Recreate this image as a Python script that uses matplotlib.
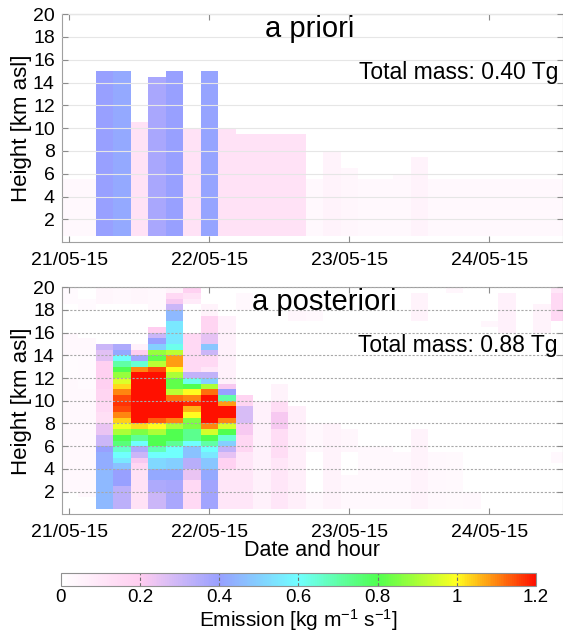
import numpy as np
import matplotlib
matplotlib.use('Agg')
import matplotlib.pyplot as plt
from matplotlib.colors import LinearSegmentedColormap

plt.rcParams['font.family'] = ['Liberation Sans', 'DejaVu Sans']
plt.rcParams['mathtext.default'] = 'regular'

# time axis: 3-hourly columns, hours since 21/05-15 00:00
day_ticks = [0, 24, 48, 72]
day_labels = ['21/05-15', '22/05-15', '23/05-15', '24/05-15']
height_ticks = [2, 4, 6, 8, 10, 12, 14, 16, 18, 20]

# a priori: each column is filled from 0.5 km up to its top with one value
prior_tops = [5.5, 5.5, 15, 15, 10.5, 14.5, 15, 10, 15, 10, 9.5, 9.5, 9.5, 9.5,
              5.5, 8, 6.5, 5.5, 5.5, 6, 7.5, 5.5, 5.5, 5.5, 5.5, 5.5, 5.5, 5.5, 5.5]
prior_vals = [0.03, 0.03, 0.40, 0.42, 0.12, 0.37, 0.40, 0.12, 0.41, 0.12, 0.12, 0.12, 0.12, 0.12,
              0.03, 0.05, 0.04, 0.03, 0.03, 0.03, 0.05, 0.03, 0.03, 0.03, 0.03, 0.03, 0.03, 0.03, 0.03]

# a posteriori: per column, (segment top [km], emission) starting from 0.5 km
p00 = [(2, 0), (12, 0.03), (14, 0.015), (16, 0.03), (18.5, 0), (20, 0.02)]
p01 = [(1.5, 0), (11, 0.03), (14, 0.02), (15.5, 0.03), (18, 0), (19, 0.02), (20, 0)]
p02 = [(4, 0.45), (5.5, 0.43), (6, 0.40), (7, 0.30), (8, 0.24), (9, 0.13), (10, 0.15),
       (11, 0.17), (13.5, 0.19), (14.5, 0.26), (15, 0.30), (18.5, 0), (20, 0.04)]
p03 = [(2.5, 0.33), (4, 0.40), (4.5, 0.47), (5, 0.55), (5.5, 0.60), (6, 0.66), (6.5, 0.75),
       (7, 0.80), (7.5, 0.90), (8, 0.98), (8.5, 1.04), (9, 1.10), (9.5, 1.15), (10, 1.17),
       (10.5, 1.15), (11, 1.10), (11.5, 1.03), (12, 0.96), (12.5, 0.88), (13, 0.80),
       (13.5, 0.70), (14, 0.60), (14.5, 0.42), (15, 0.36), (18.5, 0), (20, 0.03)]
p04 = [(4, 0.12), (4.5, 0.16), (5, 0.22), (5.5, 0.30), (6, 0.36), (6.5, 0.60), (7, 0.72),
       (7.5, 0.85), (8, 1.03), (12.5, 1.25), (13, 1.10), (13.5, 0.65), (14, 0.38),
       (14.5, 0.20), (15, 0.06), (18.5, 0), (20, 0.04)]
p05 = [(2, 0.30), (3, 0.36), (4, 0.42), (5, 0.52), (5.5, 0.60), (6, 0.68), (7, 0.80),
       (7.5, 0.90), (8, 1.00), (8.5, 1.13), (12.5, 1.25), (13, 1.15), (13.5, 0.92),
       (14, 0.82), (14.5, 0.88), (15, 0.50), (15.5, 0.40), (16, 0.30), (16.5, 0.20),
       (18, 0), (20, 0.03)]
p06 = [(3, 0.37), (4, 0.42), (5, 0.50), (6, 0.60), (6.5, 0.72), (7.5, 0.80), (8, 0.90),
       (8.5, 1.10), (10, 1.25), (10.5, 1.12), (11, 0.92), (12, 0.82), (12.5, 0.90),
       (13, 1.00), (14, 1.08), (14.5, 0.92), (15, 0.62), (17, 0.55), (18, 0.45),
       (18.5, 0.30), (19, 0.22), (19.5, 0.15), (20, 0.05)]
p07 = [(3, 0.15), (4, 0.24), (5, 0.34), (6, 0.47), (6.5, 0.60), (7.5, 0.73), (8.5, 0.85),
       (9, 1.00), (9.5, 1.06), (10, 1.18), (10.5, 1.10), (11, 1.00), (11.5, 0.80),
       (12, 0.62), (12.5, 0.32), (16, 0.15), (18.5, 0), (19, 0.08), (19.5, 0.12), (20, 0.18)]
p08 = [(3, 0.38), (4, 0.42), (5, 0.48), (5.5, 0.55), (6, 0.60), (6.5, 0.70), (7, 0.80),
       (7.5, 0.95), (8, 1.10), (10.5, 1.22), (11, 1.12), (11.5, 0.90), (12, 0.50),
       (12.5, 0.32), (13, 0.10), (14, 0.15), (14.5, 0.30), (15, 0.48), (16, 0.25),
       (17.5, 0.17), (18.5, 0.05), (20, 0)]
p09 = [(4, 0.10), (5, 0.18), (5.5, 0.25), (6, 0.32), (6.5, 0.50), (7, 0.65), (7.5, 0.80),
       (8, 0.95), (8.5, 1.10), (9.5, 1.20), (10, 1.08), (10.5, 0.70), (11, 0.40),
       (11.5, 0.22), (17.5, 0.06), (20, 0)]
p10 = [(5.5, 0.10), (7, 0.16), (8, 0.22), (9.5, 0.28), (10.5, 0.17), (18, 0), (19.5, 0.03), (20, 0)]
p11 = [(10, 0.06), (20, 0)]
p12 = [(5, 0.10), (7.5, 0.14), (9, 0.22), (10, 0.14), (11.5, 0.05), (20, 0)]
p13 = [(9.5, 0.07), (17, 0), (18, 0.04), (20, 0)]
p14 = [(2, 0.03), (5.5, 0), (8, 0.03), (17, 0), (18, 0.03), (20, 0)]
p15 = [(8, 0.05), (20, 0)]
p16 = [(3.5, 0.03), (5.5, 0), (7.5, 0.04), (20, 0)]
p17 = [(6, 0.03), (20, 0)]
p18 = [(6, 0.03), (20, 0)]
p19 = [(5.5, 0.03), (20, 0)]
p20 = [(7.5, 0.05), (17, 0), (19.5, 0.05), (20, 0)]
p21 = [(5.5, 0.03), (20, 0)]
p22 = [(5.5, 0.025), (19.5, 0), (20, 0.04)]
p23 = [(2, 0.03), (20, 0)]
p24 = [(16.5, 0), (17, 0.04), (20, 0)]
p25 = [(16, 0), (19.5, 0.06), (20, 0)]
p26 = [(20, 0)]
p27 = [(16, 0), (18.5, 0.05), (20, 0)]
p28 = [(4.5, 0), (5.5, 0.03), (17, 0), (19.5, 0.15), (20, 0.10)]

posterior_columns = [p00, p01, p02, p03, p04, p05, p06, p07, p08, p09, p10, p11, p12, p13, p14,
                     p15, p16, p17, p18, p19, p20, p21, p22, p23, p24, p25, p26, p27, p28]

# grid: 3 h wide columns centred on 00, 03, ... and 0.5 km levels
hour_edges = np.arange(-1.5, 86, 3)
height_edges = np.arange(0.5, 20.01, 0.5)
height_mid = 0.5 * (height_edges[:-1] + height_edges[1:])


def build_grid(columns):
    grid = np.zeros((len(height_mid), len(columns)))
    for j, segs in enumerate(columns):
        bottom = 0.5
        for top, val in segs:
            grid[(height_mid > bottom) & (height_mid < top), j] = val
            bottom = top
    return grid


prior_grid = build_grid([[(t, v), (20, 0)] for t, v in zip(prior_tops, prior_vals)])
post_grid = build_grid(posterior_columns)

cmap = LinearSegmentedColormap.from_list('emis', [
    (0.0, '#ffffff'), (1 / 6, '#ffcdf0'), (2 / 6, '#98a0ff'), (3 / 6, '#70ffff'),
    (4 / 6, '#50ff50'), (5 / 6, '#ffff20'), (1.0, '#ff1000')])
cmap.set_over('#ff1000')

fig = plt.figure(figsize=(5.63, 6.44), dpi=100)
ax1 = fig.add_axes([0.1096, 0.624, 0.8904, 0.354])
ax2 = fig.add_axes([0.1096, 0.2014, 0.8904, 0.3525])

panels = [(ax1, prior_grid, 'a priori', 'Total mass: 0.40 Tg', 0.494, '-', '#e6e6e6'),
          (ax2, post_grid, 'a posteriori', 'Total mass: 0.88 Tg', 0.523, (0, (2, 1.5)), '#a8a8a8')]

for ax, grid, title, mass, tx, gls, gcol in panels:
    mesh = ax.pcolormesh(hour_edges, height_edges, grid, cmap=cmap, vmin=0, vmax=1.2,
                         shading='flat', zorder=1)
    ax.set_xlim(-1.3, 84.6)
    ax.set_ylim(0, 20)
    ax.set_xticks(day_ticks)
    ax.set_xticklabels(day_labels)
    ax.set_yticks(height_ticks)
    ax.tick_params(direction='in', top=True, right=True, length=4, width=0.8,
                   color='#8c8c8c', labelsize=14, pad=5)
    ax.tick_params(axis='x', pad=7)
    ax.grid(axis='y', linestyle=gls, color=gcol, linewidth=0.8, zorder=2)
    ax.set_axisbelow(False)
    for sp in ax.spines.values():
        sp.set_color('#a0a0a0')
    ax.set_ylabel('Height [km asl]', fontsize=16)
    ax.yaxis.set_label_coords(-0.06, 0.5)
    ax.text(tx, 0.902, title, transform=ax.transAxes, ha='center', va='baseline', fontsize=21)
    ax.text(0.99, 0.715, mass, transform=ax.transAxes, ha='right', va='baseline', fontsize=16.5)

ax2.set_xlabel('Date and hour', fontsize=15.5)
ax2.xaxis.set_label_coords(0.5, -0.115)

cax = fig.add_axes([0.1083, 0.090, 0.8437, 0.020])
cbar_ticks = [0, 0.2, 0.4, 0.6, 0.8, 1.0, 1.2]
cb = fig.colorbar(mesh, cax=cax, orientation='horizontal', ticks=cbar_ticks)
cb.ax.set_xticklabels(['0', '0.2', '0.4', '0.6', '0.8', '1', '1.2'])
cb.ax.tick_params(length=0, labelsize=13.5, pad=2)
cb.outline.set_edgecolor('#909090')
for t in cbar_ticks[1:-1]:
    cax.axvline(t, color='#707070', linestyle=(0, (3, 2)), linewidth=0.8)
cb.set_label('Emission [kg m$^{-1}$ s$^{-1}$]', fontsize=15, labelpad=1)

fig.savefig('out.png', dpi=100)
